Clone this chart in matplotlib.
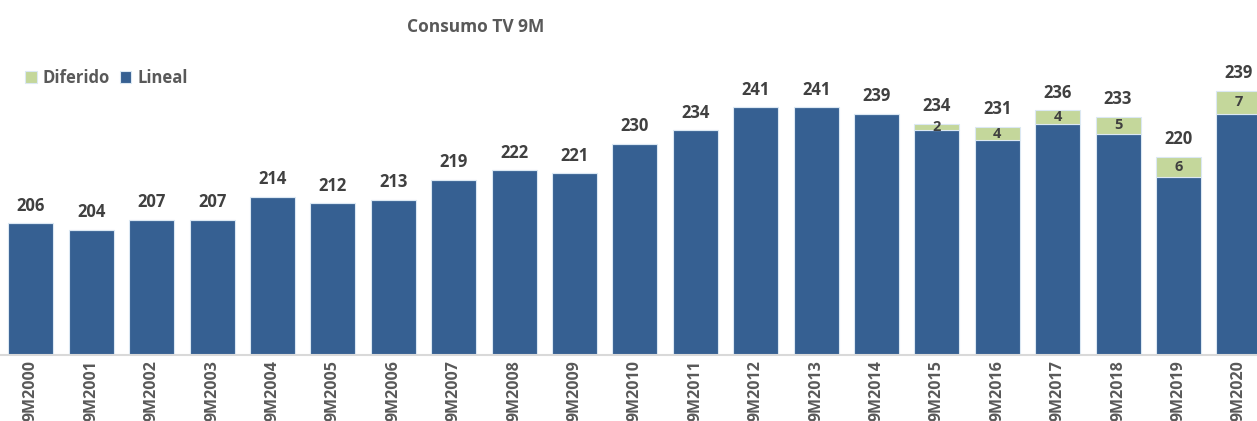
import numpy as np
import matplotlib.pyplot as plt

# Datos
periodos = ["9M2000", "9M2001", "9M2002", "9M2003", "9M2004", "9M2005", "9M2006",
            "9M2007", "9M2008", "9M2009", "9M2010", "9M2011", "9M2012", "9M2013",
            "9M2014", "9M2015", "9M2016", "9M2017", "9M2018", "9M2019", "9M2020"]
# la barra azul llega hasta el total, el diferido va apilado encima
lineal = [206, 204, 207, 207, 214, 212, 213, 219, 222, 221, 230, 234, 241, 241,
          239, 234, 231, 236, 233, 220, 239]
diferido = [0, 0, 0, 0, 0, 0, 0, 0, 0, 0, 0, 0, 0, 0,
            0, 2, 4, 4, 5, 6, 7]

azul = "#366092"
verde = "#c4d79b"
texto = "#404040"

plt.rcParams['font.family'] = ['Open Sans', 'DejaVu Sans']

fig = plt.figure(figsize=(12.57, 4.21), dpi=100)
ax = fig.add_axes([0, 0.157, 1, 0.843])

x = np.arange(len(periodos))
ancho = 0.745
ax.bar(x, lineal, ancho, color=azul, edgecolor="#dbe8f3", linewidth=0.8, label="Lineal")
ax.bar(x, diferido, ancho, bottom=lineal, color=verde, edgecolor="#dbe8f3",
       linewidth=0.8, label="Diferido")

for i in range(len(periodos)):
    tope = lineal[i] + diferido[i]
    ax.text(x[i], tope + 2.6, str(lineal[i]), ha="center", va="bottom",
            fontsize=12, fontweight="bold", color=texto)
    if diferido[i] > 0:
        ax.text(x[i], lineal[i] + diferido[i] / 2, str(diferido[i]), ha="center",
                va="center", fontsize=10.5, fontweight="bold", color=texto)

ax.set_xlim(-0.513, 20.30)
ax.set_ylim(166.3, 273.3)
ax.set_yticks([])
ax.set_xticks(x)
ax.set_xticklabels(periodos, rotation=90, fontsize=11.5, fontweight="bold", color="#595959")
ax.tick_params(axis="x", length=0, pad=4)
for lado in ["top", "right", "left"]:
    ax.spines[lado].set_visible(False)
ax.spines["bottom"].set_color("#d9d9d9")
ax.spines["bottom"].set_linewidth(1.5)

fig.text(0.378, 0.935, "Consumo TV 9M", ha="center", va="center", fontsize=12.5,
         fontweight="bold", color="#595959")

# Leyenda (Diferido primero)
manejadores, etiquetas = ax.get_legend_handles_labels()
leg = fig.legend(manejadores[::-1], etiquetas[::-1], loc="center left",
                 bbox_to_anchor=(0.008, 0.815), ncol=2, frameon=False,
                 fontsize=12, handlelength=0.7, handleheight=0.8,
                 handletextpad=0.35, columnspacing=0.6)
for t in leg.get_texts():
    t.set_fontweight("bold")
    t.set_color("#595959")

fig.savefig("out.png", dpi=100)
